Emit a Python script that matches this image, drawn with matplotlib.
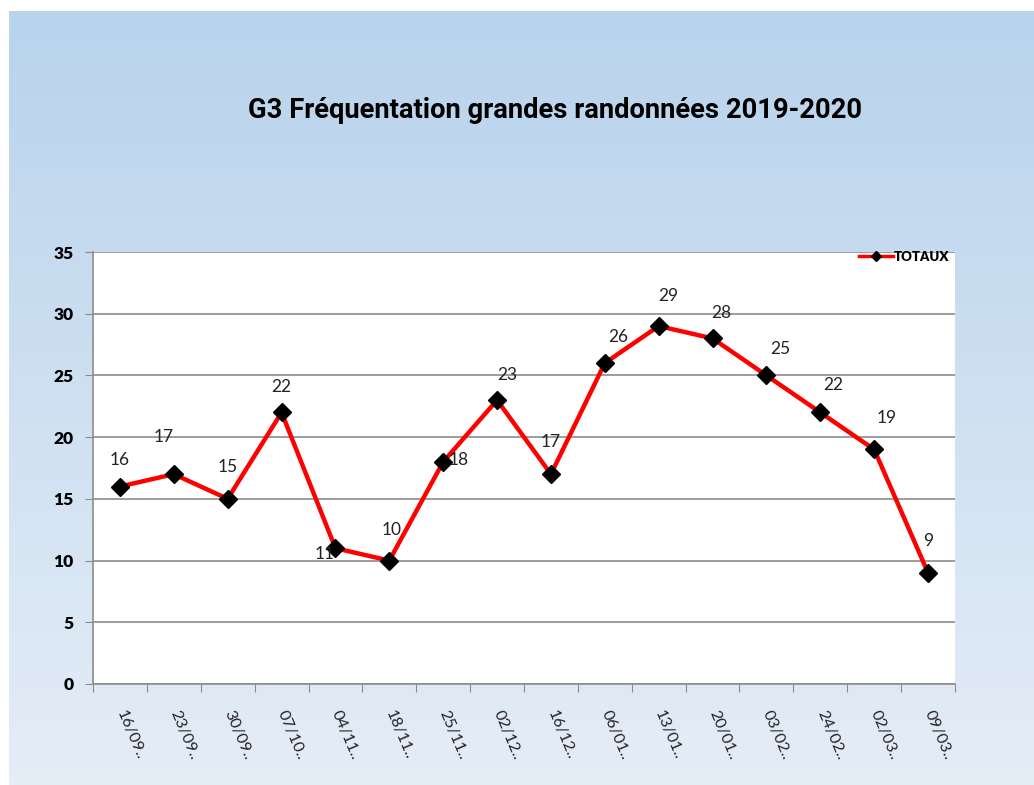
import numpy as np
import matplotlib
matplotlib.use('Agg')
import matplotlib.pyplot as plt
from matplotlib.colors import LinearSegmentedColormap
from matplotlib.lines import Line2D

# data
dates = ['16/09..', '23/09..', '30/09..', '07/10..', '04/11..', '18/11..',
         '25/11..', '02/12..', '16/12..', '06/01..', '13/01..', '20/01..',
         '03/02..', '24/02..', '02/03..', '09/03..']
totaux = [16, 17, 15, 22, 11, 10, 18, 23, 17, 26, 29, 28, 25, 22, 19, 9]
title = 'G3 Fréquentation grandes randonnées 2019-2020'
yticks = [0, 5, 10, 15, 20, 25, 30, 35]

# where each value label sits relative to its point (points)
label_offsets = [(0, 19), (-7, 27), (0, 23), (0, 18), (-8, -4), (2, 22),
                 (11, 1), (7, 18), (0, 23), (10, 19), (7, 22), (6, 18),
                 (10, 19), (9, 20), (9, 23), (0, 23)]

W, H = 1034, 785
fig = plt.figure(figsize=(W / 100, H / 100), dpi=100)
fig.patch.set_facecolor('white')

# gradient background panel
bg = fig.add_axes([9 / W, 0, 1 - 9 / W, 1 - 11 / H])
cmap = LinearSegmentedColormap.from_list('bg', ['#b8d3ec', '#e5edf7'])
grad = np.linspace(0, 1, 256).reshape(-1, 1)
bg.imshow(grad, aspect='auto', cmap=cmap, extent=[0, 1, 0, 1])
bg.set_axis_off()

# plot area
left, right, top, bottom = 93, 955, 252, 684
ax = fig.add_axes([left / W, 1 - bottom / H, (right - left) / W, (bottom - top) / H])
ax.set_facecolor('white')

x = np.arange(len(dates))
ax.plot(x, totaux, color='#ff0000', lw=3.2, marker='D', markersize=9,
        markerfacecolor='black', markeredgecolor='black', zorder=3, clip_on=False)

for xi, v, (dx, dy) in zip(x, totaux, label_offsets):
    ax.annotate(str(v), (xi, v), xytext=(dx, dy), textcoords='offset points',
                ha='center', va='center', fontsize=12.5, color='#222222',
                family='Lato', zorder=4)

ax.set_xlim(-0.5, len(dates) - 0.5)
ax.set_ylim(0, 35)
ax.set_yticks(yticks)
ax.set_yticklabels([str(t) for t in yticks], fontsize=12.5, fontweight='heavy',
                   family='Lato')
ax.yaxis.grid(True, color='#8c8c8c', lw=1.2)
ax.set_axisbelow(True)

# category boundaries as ticks, labels at category centres
ax.set_xticks(np.arange(-0.5, len(dates)), minor=False)
ax.set_xticklabels([])
ax.tick_params(axis='x', length=6, color='#8c8c8c', direction='out')
ax.tick_params(axis='y', length=6, color='#8c8c8c', direction='out', pad=8)
for xi, lab in zip(x, dates):
    ax.text(xi, -2.2, lab, rotation=-67, rotation_mode='anchor', ha='left',
            va='center', fontsize=11.5, family='Lato', color='#222222')

for s in ['top', 'right']:
    ax.spines[s].set_visible(False)
for s in ['left', 'bottom']:
    ax.spines[s].set_color('#8c8c8c')
    ax.spines[s].set_linewidth(1.2)

# legend
handle = Line2D([], [], color='#ff0000', lw=2.5, marker='D', markersize=5,
                markerfacecolor='black', markeredgecolor='black')
leg = ax.legend([handle], ['TOTAUX'], loc='upper right', bbox_to_anchor=(1.0, 1.015),
                frameon=False, handlelength=2.6, handletextpad=0.1, borderaxespad=0,
                prop={'size': 9.5, 'weight': 'heavy', 'family': 'Lato'})

fig.text(555 / W, 1 - 110 / H, title, ha='center', va='center', fontsize=19.7,
         fontweight='bold', family='Roboto')

fig.savefig('out.png', dpi=100)
